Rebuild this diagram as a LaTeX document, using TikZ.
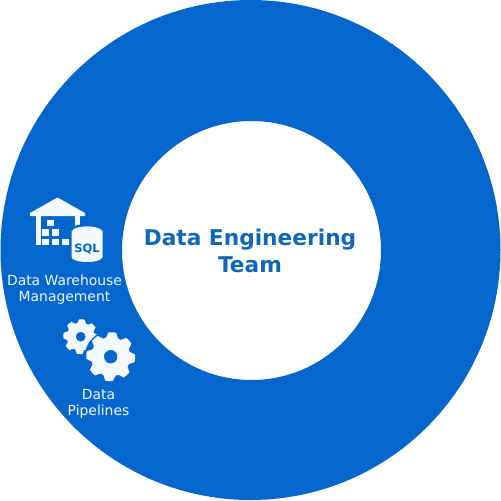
\documentclass[tikz,border=0pt]{standalone}
\usepackage{fontspec}
\setmainfont{DejaVu Sans}
\definecolor{ringblue}{HTML}{0567CD}
\definecolor{teamblue}{HTML}{1066B8}
\definecolor{iconwhite}{HTML}{F2F8FE}
\newcommand{\gearshape}[4]{% center x, center y, outer radius, hole radius
  \fill[iconwhite,even odd rule] (#1,#2) circle (#4)
    plot[samples at={0,...,39},variable=\t]
      ({#1+#3*(1-.2*(mod(\t+1,5)>2))*cos(9*\t+4)},{#2+#3*(1-.2*(mod(\t+1,5)>2))*sin(9*\t+4)}) -- cycle;
}
\begin{document}
\begin{tikzpicture}[x=1pt,y=-1pt,
    whitelabel/.style={text=iconwhite,font=\fontsize{13.9}{16}\selectfont,align=center},
    teamlabel/.style={text=teamblue,font=\fontsize{21.7}{26.5}\selectfont\bfseries,align=center}]
\useasboundingbox (0,0) rectangle (501,501);

\def\ringOuter{(250.5,250) circle (250)}
\def\ringInner{(251.5,250.5) circle (129.5)}
\fill[ringblue,even odd rule] \ringOuter \ringInner;

\node[teamlabel] (team) at (250,251) {Data Engineering\\Team};

% warehouse
\fill[iconwhite] (30,213) -- (57.5,197.5) -- (85,213) -- (85,216) -- (30,216) -- cycle;
\fill[iconwhite] (36,216) rectangle (41,245);
\fill[iconwhite] (74.5,216) rectangle (80,228);
\foreach \boxx/\boxy in {47/219.5,42/229,52/229,42/238.5,52/238.5,62/238.5}
  \fill[iconwhite] (\boxx,\boxy) rectangle ++(7,6.7);

% database
\def\sqlBody{(71.5,231) arc[x radius=15.5,y radius=5,start angle=180,end angle=360] -- (102.5,257) arc[x radius=15.5,y radius=5,start angle=0,end angle=180] -- cycle}
\fill[ringblue] (69.5,231) rectangle (104.5,258);
\fill[ringblue] (87,231) ellipse (17.5 and 7);
\fill[ringblue] (87,257) ellipse (17.5 and 7);
\fill[iconwhite] \sqlBody;
\fill[iconwhite] (87,231) ellipse (15.5 and 4.5);
\draw[ringblue,line width=.8pt] (71.5,231) arc[x radius=15.5,y radius=5,start angle=180,end angle=360];
\node[text=ringblue,font=\fontsize{11.5}{12}\selectfont\bfseries,inner sep=0pt] (sql) at (87,249) {SQL};

\node[whitelabel] (warehouse) at (64.5,290) {Data Warehouse\\Management};

% gears
\gearshape{80.7}{336.7}{17.5}{5}
\fill[ringblue] (110.7,356.7) circle (26);
\gearshape{110.7}{356.7}{24.5}{6.8}

\node[whitelabel] (pipelines) at (98.5,404) {Data\\Pipelines};

\end{tikzpicture}
\end{document}
